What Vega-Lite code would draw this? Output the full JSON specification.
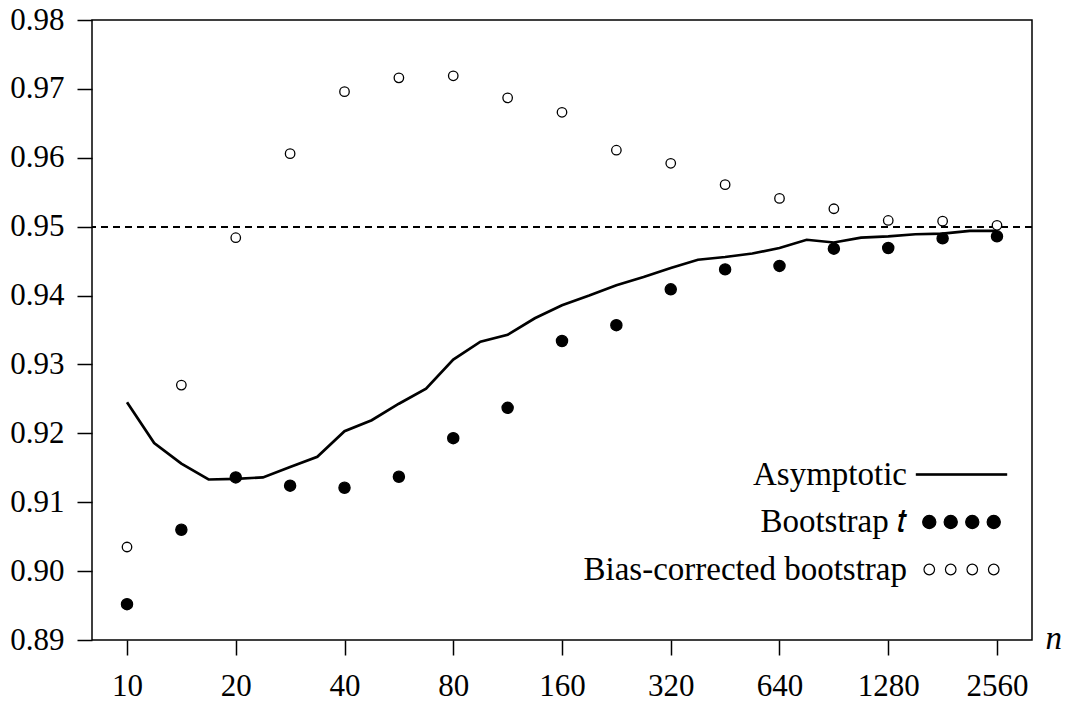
{
  "$schema": "https://vega.github.io/schema/vega-lite/v6.json",
  "width": 940,
  "height": 620,
  "autosize": {"type": "none"},
  "padding": {"left": 92, "top": 20, "right": 34, "bottom": 65},
  "background": "white",
  "config": {
    "view": {"stroke": "black", "strokeWidth": 1.5},
    "font": "Liberation Serif",
    "axis": {
      "domain": false,
      "grid": false,
      "tickColor": "black",
      "tickWidth": 1.5,
      "tickSize": 15,
      "labelColor": "black",
      "labelFont": "Liberation Serif",
      "labelFontSize": 31,
      "titleColor": "black",
      "titleFont": "Liberation Serif"
    }
  },
  "data": {
    "values": [
      {"n": 10, "value": 0.9245, "series": "Asymptotic"},
      {"n": 11.89, "value": 0.9186, "series": "Asymptotic"},
      {"n": 14.14, "value": 0.9156, "series": "Asymptotic"},
      {"n": 16.82, "value": 0.9133, "series": "Asymptotic"},
      {"n": 20, "value": 0.9134, "series": "Asymptotic"},
      {"n": 23.78, "value": 0.9136, "series": "Asymptotic"},
      {"n": 28.28, "value": 0.9151, "series": "Asymptotic"},
      {"n": 33.64, "value": 0.9166, "series": "Asymptotic"},
      {"n": 40, "value": 0.9203, "series": "Asymptotic"},
      {"n": 47.57, "value": 0.9219, "series": "Asymptotic"},
      {"n": 56.57, "value": 0.9243, "series": "Asymptotic"},
      {"n": 67.27, "value": 0.9265, "series": "Asymptotic"},
      {"n": 80, "value": 0.9307, "series": "Asymptotic"},
      {"n": 95.14, "value": 0.9333, "series": "Asymptotic"},
      {"n": 113.14, "value": 0.9343, "series": "Asymptotic"},
      {"n": 134.54, "value": 0.9367, "series": "Asymptotic"},
      {"n": 160, "value": 0.9386, "series": "Asymptotic"},
      {"n": 190.27, "value": 0.9400, "series": "Asymptotic"},
      {"n": 226.27, "value": 0.9415, "series": "Asymptotic"},
      {"n": 269.09, "value": 0.9427, "series": "Asymptotic"},
      {"n": 320, "value": 0.9440, "series": "Asymptotic"},
      {"n": 380.55, "value": 0.9452, "series": "Asymptotic"},
      {"n": 452.55, "value": 0.9456, "series": "Asymptotic"},
      {"n": 538.17, "value": 0.9461, "series": "Asymptotic"},
      {"n": 640, "value": 0.9469, "series": "Asymptotic"},
      {"n": 761.09, "value": 0.9481, "series": "Asymptotic"},
      {"n": 905.1, "value": 0.9477, "series": "Asymptotic"},
      {"n": 1076.35, "value": 0.9484, "series": "Asymptotic"},
      {"n": 1280, "value": 0.9486, "series": "Asymptotic"},
      {"n": 1522.19, "value": 0.9489, "series": "Asymptotic"},
      {"n": 1810.19, "value": 0.9490, "series": "Asymptotic"},
      {"n": 2152.69, "value": 0.9494, "series": "Asymptotic"},
      {"n": 2560, "value": 0.9494, "series": "Asymptotic"},
      {"n": 10, "value": 0.8952, "series": "Bootstrap t"},
      {"n": 14.14, "value": 0.9060, "series": "Bootstrap t"},
      {"n": 20, "value": 0.9136, "series": "Bootstrap t"},
      {"n": 28.28, "value": 0.9124, "series": "Bootstrap t"},
      {"n": 40, "value": 0.9121, "series": "Bootstrap t"},
      {"n": 56.57, "value": 0.9137, "series": "Bootstrap t"},
      {"n": 80, "value": 0.9193, "series": "Bootstrap t"},
      {"n": 113.14, "value": 0.9237, "series": "Bootstrap t"},
      {"n": 160, "value": 0.9334, "series": "Bootstrap t"},
      {"n": 226.27, "value": 0.9357, "series": "Bootstrap t"},
      {"n": 320, "value": 0.9409, "series": "Bootstrap t"},
      {"n": 452.55, "value": 0.9438, "series": "Bootstrap t"},
      {"n": 640, "value": 0.9443, "series": "Bootstrap t"},
      {"n": 905.1, "value": 0.9468, "series": "Bootstrap t"},
      {"n": 1280, "value": 0.9469, "series": "Bootstrap t"},
      {"n": 1810.19, "value": 0.9483, "series": "Bootstrap t"},
      {"n": 2560, "value": 0.9486, "series": "Bootstrap t"},
      {"n": 10, "value": 0.9035, "series": "Bias-corrected bootstrap"},
      {"n": 14.14, "value": 0.9270, "series": "Bias-corrected bootstrap"},
      {"n": 20, "value": 0.9484, "series": "Bias-corrected bootstrap"},
      {"n": 28.28, "value": 0.9606, "series": "Bias-corrected bootstrap"},
      {"n": 40, "value": 0.9696, "series": "Bias-corrected bootstrap"},
      {"n": 56.57, "value": 0.9716, "series": "Bias-corrected bootstrap"},
      {"n": 80, "value": 0.9719, "series": "Bias-corrected bootstrap"},
      {"n": 113.14, "value": 0.9687, "series": "Bias-corrected bootstrap"},
      {"n": 160, "value": 0.9666, "series": "Bias-corrected bootstrap"},
      {"n": 226.27, "value": 0.9611, "series": "Bias-corrected bootstrap"},
      {"n": 320, "value": 0.9592, "series": "Bias-corrected bootstrap"},
      {"n": 452.55, "value": 0.9561, "series": "Bias-corrected bootstrap"},
      {"n": 640, "value": 0.9541, "series": "Bias-corrected bootstrap"},
      {"n": 905.1, "value": 0.9526, "series": "Bias-corrected bootstrap"},
      {"n": 1280, "value": 0.9509, "series": "Bias-corrected bootstrap"},
      {"n": 1810.19, "value": 0.9508, "series": "Bias-corrected bootstrap"},
      {"n": 2560, "value": 0.9502, "series": "Bias-corrected bootstrap"}
    ]
  },
  "layer": [
    {
      "mark": {"type": "rule", "color": "black", "strokeWidth": 1.2, "strokeDash": [7, 5]},
      "encoding": {"y": {"datum": 0.95, "type": "quantitative"}}
    },
    {
      "transform": [{"filter": "datum.series === 'Asymptotic'"}],
      "mark": {"type": "line", "color": "black", "strokeWidth": 2.7},
      "encoding": {
        "x": {
          "field": "n",
          "type": "quantitative",
          "scale": {"type": "log", "base": 2, "domain": [8, 3200], "nice": false},
          "axis": {
            "values": [10, 20, 40, 80, 160, 320, 640, 1280, 2560],
            "format": "d",
            "labelPadding": 16,
            "labelFlush": false,
            "title": "n",
            "titleFontStyle": "italic",
            "titleFontWeight": "normal",
            "titleFontSize": 33,
            "titleX": 953,
            "titleY": 8,
            "titleAlign": "left",
            "titleBaseline": "alphabetic",
            "titleAngle": 0
          }
        },
        "y": {
          "field": "value",
          "type": "quantitative",
          "scale": {"domain": [0.89, 0.98], "nice": false, "zero": false},
          "axis": {
            "values": [0.89, 0.90, 0.91, 0.92, 0.93, 0.94, 0.95, 0.96, 0.97, 0.98],
            "format": ".2f",
            "labelPadding": 13,
            "labelFlush": false,
            "title": null
          }
        }
      }
    },
    {
      "transform": [{"filter": "datum.series !== 'Asymptotic'"}],
      "mark": {"type": "point", "shape": "circle", "filled": true, "stroke": "black", "strokeWidth": 1.3, "opacity": 1},
      "encoding": {
        "x": {"field": "n", "type": "quantitative"},
        "y": {"field": "value", "type": "quantitative"},
        "size": {"condition": {"test": "datum.series === 'Bootstrap t'", "value": 125}, "value": 90},
        "fill": {
          "field": "series",
          "type": "nominal",
          "scale": {"domain": ["Asymptotic", "Bootstrap t", "Bias-corrected bootstrap"], "range": ["black", "black", "white"]},
          "legend": {
            "orient": "none",
            "legendX": 853,
            "legendY": 438,
            "title": null,
            "padding": 0,
            "labelFont": "Liberation Serif",
            "labelFontSize": 33,
            "labelColor": "black",
            "labelAlign": "right",
            "labelOffset": -71,
            "labelLimit": 600,
            "labelExpr": "datum.label === 'Bootstrap t' ? 'Bootstrap 𝑡' : datum.label",
            "rowPadding": 13.5,
            "symbolSize": 484,
            "symbolStrokeColor": "black",
            "symbolStrokeWidth": 1.2,
            "symbolOpacity": 1,
            "symbolType": {"expr": "datum.value === 'Asymptotic' ? 'M-4.1,-0.06H4.1V0.06H-4.1Z' : (datum.value === 'Bootstrap t' ? 'M-2.33,0A0.6,0.6,0,1,1,-3.53,0A0.6,0.6,0,1,1,-2.33,0ZM-0.38,0A0.6,0.6,0,1,1,-1.58,0A0.6,0.6,0,1,1,-0.38,0ZM1.58,0A0.6,0.6,0,1,1,0.38,0A0.6,0.6,0,1,1,1.58,0ZM3.53,0A0.6,0.6,0,1,1,2.33,0A0.6,0.6,0,1,1,3.53,0Z' : 'M-2.45,0A0.48,0.48,0,1,1,-3.41,0A0.48,0.48,0,1,1,-2.45,0ZM-0.5,0A0.48,0.48,0,1,1,-1.46,0A0.48,0.48,0,1,1,-0.5,0ZM1.46,0A0.48,0.48,0,1,1,0.5,0A0.48,0.48,0,1,1,1.46,0ZM3.41,0A0.48,0.48,0,1,1,2.45,0A0.48,0.48,0,1,1,3.41,0Z')"}
          }
        }
      }
    }
  ]
}
